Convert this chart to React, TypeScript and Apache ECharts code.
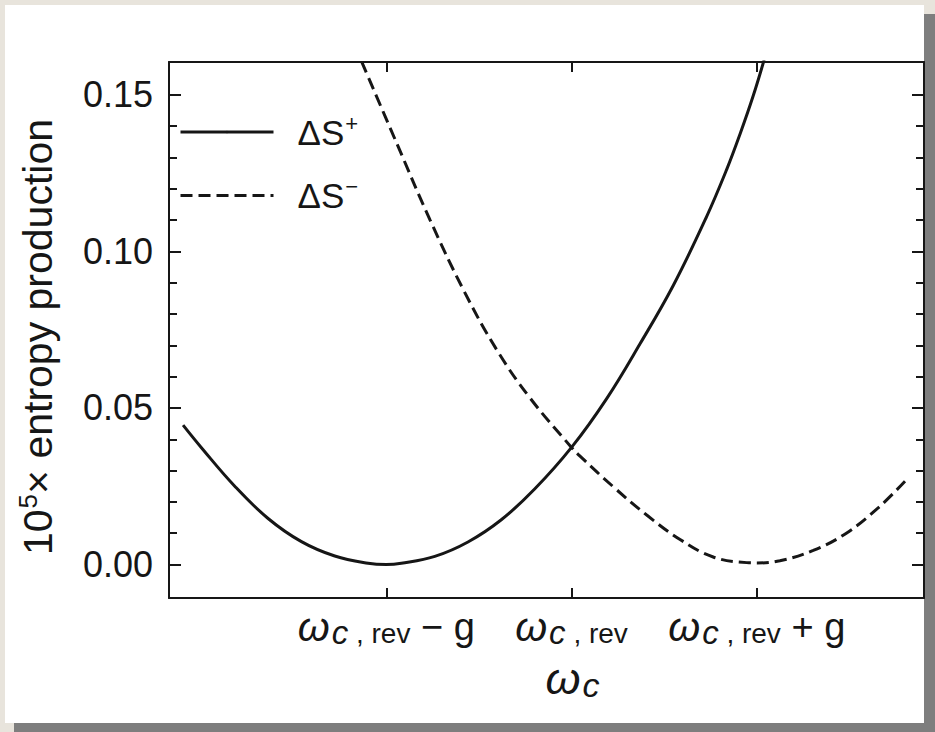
import React, { useEffect, useRef } from 'react';
import * as echarts from 'echarts';

// Axis ranges (x in units of g, relative to ω_c,rev)
const X_MIN = -2.173;
const X_MAX = 1.903;
const Y_MIN = -0.0107;
const Y_MAX = 0.1605;

const xTickValues = [-1, 0, 1];
const xTickSuffix = [' − g', '', ' + g'];
const yMajorTicks = [0, 0.05, 0.1, 0.15];
const yMinorTicks = [0.01, 0.02, 0.03, 0.04, 0.06, 0.07, 0.08, 0.09, 0.11, 0.12, 0.13, 0.14];

const seriesNames = ['ΔS⁺', 'ΔS⁻'];

// ΔS+ (solid)
const sPlusX = [-2.097, -1.998, -1.818, -1.638, -1.458, -1.278, -1.098, -1.0, -0.919, -0.738, -0.559, -0.379, -0.199, 0.0, 0.19, 0.37, 0.55, 0.73, 0.838, 0.91, 0.981, 1.04];
const sPlusY = [0.0445, 0.0373, 0.0250, 0.0147, 0.0073, 0.0027, 0.0004, 0.0, 0.0004, 0.0026, 0.0072, 0.0143, 0.0241, 0.0374, 0.0530, 0.0705, 0.0892, 0.1112, 0.1262, 0.1375, 0.1497, 0.1612];

// ΔS- (dashed)
const sMinusX = [-1.133, -0.944, -0.764, -0.584, -0.404, -0.224, 0.0, 0.046, 0.226, 0.406, 0.586, 0.765, 0.946, 1.0, 1.125, 1.305, 1.486, 1.665, 1.818];
const sMinusY = [0.1606, 0.1346, 0.1101, 0.0878, 0.0686, 0.0532, 0.0374, 0.0346, 0.0248, 0.0158, 0.0080, 0.0024, 0.0006, 0.0005, 0.0012, 0.0045, 0.0101, 0.0186, 0.0277];

const INK = '#161616';
const FONT = 'Liberation Sans, Arial, Helvetica, sans-serif';

export default function App() {
  const ref = useRef<HTMLDivElement>(null);

  useEffect(() => {
    if (!ref.current) return;
    const chart = echarts.init(ref.current, undefined, { renderer: 'svg' });

    const axisLine = { show: true, onZero: false, lineStyle: { color: INK, width: 2 } };
    const hiddenLine = { show: false, onZero: false };
    const tickStyle = { color: INK, width: 2 };

    const xRich = {
      w: { fontFamily: FONT, fontStyle: 'italic', fontSize: 41, color: INK },
      c: { fontFamily: FONT, fontStyle: 'italic', fontSize: 33, color: INK, padding: [12, 0, 0, 2] },
      r: { fontFamily: FONT, fontSize: 28, color: INK, padding: [14, 0, 0, 0] },
      t: { fontFamily: FONT, fontSize: 38, color: INK },
    };
    const nameRich = {
      w: { fontFamily: FONT, fontStyle: 'italic', fontSize: 45, color: INK },
      c: { fontFamily: FONT, fontStyle: 'italic', fontSize: 34, color: INK, padding: [14, 0, 0, 2] },
    };

    const option: any = {
      animation: false,
      backgroundColor: '#e8e4dc',
      graphic: [
        { type: 'rect', z: -10, silent: true, shape: { x: 14, y: 14, width: 921, height: 718 }, style: { fill: '#7e7e7e' } },
        { type: 'rect', z: -9, silent: true, shape: { x: 5, y: 5, width: 919, height: 718 }, style: { fill: '#ffffff' } },
      ],
      grid: { left: 169, right: 11, top: 62, bottom: 134, containLabel: false, outerBoundsMode: 'none' },
      legend: {
        orient: 'vertical',
        left: 174,
        top: 107,
        itemWidth: 93,
        itemHeight: 3,
        itemGap: 26,
        data: seriesNames,
        lineStyle: { width: 3 },
        itemStyle: { borderWidth: 0 },
        formatter: (name: string) => (name === seriesNames[0] ? '{a|ΔS}{s|+}' : '{a|ΔS}{s|−}'),
        textStyle: {
          padding: [0, 0, 0, 19],
          rich: {
            a: { fontFamily: FONT, fontSize: 35, color: INK },
            s: { fontFamily: FONT, fontSize: 22, color: INK, padding: [0, 0, 18, 1] },
          },
        },
      },
      xAxis: [
        {
          type: 'value',
          position: 'bottom',
          min: X_MIN,
          max: X_MAX,
          axisLine,
          splitLine: { show: false },
          axisTick: { show: true, inside: true, length: 10, customValues: xTickValues, lineStyle: tickStyle },
          axisLabel: {
            show: true,
            margin: 6,
            customValues: xTickValues,
            formatter: (v: number) => {
              const i = xTickValues.indexOf(Math.round(v));
              const suf = i >= 0 ? xTickSuffix[i] : '';
              return '{w|ω}{c|c}{r| , rev}' + (suf ? '{t|' + suf + '}' : '');
            },
            rich: xRich,
          },
          name: '{w|ω}{c|c}',
          nameLocation: 'middle',
          nameGap: 56,
          nameTextStyle: { rich: nameRich, padding: [0, 0, 0, 52] },
        },
        {
          type: 'value',
          position: 'top',
          min: X_MIN,
          max: X_MAX,
          axisLine,
          splitLine: { show: false },
          axisTick: { show: true, inside: true, length: 10, customValues: xTickValues, lineStyle: tickStyle },
          axisLabel: { show: false },
        },
      ],
      yAxis: [
        {
          type: 'value',
          position: 'left',
          min: Y_MIN,
          max: Y_MAX,
          axisLine,
          splitLine: { show: false },
          axisTick: { show: true, inside: true, length: 12, customValues: yMajorTicks, lineStyle: tickStyle },
          axisLabel: {
            show: true,
            margin: 16,
            customValues: yMajorTicks,
            formatter: (v: number) => v.toFixed(2),
            fontFamily: FONT,
            fontSize: 36,
            color: INK,
          },
          name: '{a|10}{s|5}{a|× entropy production}',
          nameLocation: 'middle',
          nameRotate: 90,
          nameGap: 108,
          nameTextStyle: {
            padding: [0, 14, 0, 0],
            rich: {
              a: { fontFamily: FONT, fontSize: 41, color: INK },
              s: { fontFamily: FONT, fontSize: 26, color: INK, padding: [0, 0, 20, 1] },
            },
          },
        },
        {
          type: 'value',
          position: 'left',
          min: Y_MIN,
          max: Y_MAX,
          axisLine: hiddenLine,
          splitLine: { show: false },
          axisTick: { show: true, inside: true, length: 8, customValues: yMinorTicks, lineStyle: tickStyle },
          axisLabel: { show: false },
        },
        {
          type: 'value',
          position: 'right',
          min: Y_MIN,
          max: Y_MAX,
          axisLine,
          splitLine: { show: false },
          axisTick: { show: true, inside: true, length: 12, customValues: yMajorTicks, lineStyle: tickStyle },
          axisLabel: { show: false },
        },
        {
          type: 'value',
          position: 'right',
          min: Y_MIN,
          max: Y_MAX,
          axisLine: hiddenLine,
          splitLine: { show: false },
          axisTick: { show: true, inside: true, length: 8, customValues: yMinorTicks, lineStyle: tickStyle },
          axisLabel: { show: false },
        },
      ],
      series: [
        {
          name: seriesNames[0],
          type: 'line',
          xAxisIndex: 0,
          yAxisIndex: 0,
          data: sPlusX.map((x, i) => [x, sPlusY[i]]),
          symbol: 'none',
          showSymbol: false,
          smooth: 0.4,
          clip: true,
          itemStyle: { color: INK },
          lineStyle: { color: INK, width: 3, type: 'solid' },
        },
        {
          name: seriesNames[1],
          type: 'line',
          xAxisIndex: 0,
          yAxisIndex: 0,
          data: sMinusX.map((x, i) => [x, sMinusY[i]]),
          symbol: 'none',
          showSymbol: false,
          smooth: 0.4,
          clip: true,
          itemStyle: { color: INK },
          lineStyle: { color: INK, width: 3, type: [12, 6] },
        },
      ],
    };

    chart.setOption(option);
    return () => chart.dispose();
  }, []);

  return (
    <div
      ref={ref}
      style={{ position: 'fixed', left: 0, top: 0, width: 935, height: 732 }}
    />
  );
}
